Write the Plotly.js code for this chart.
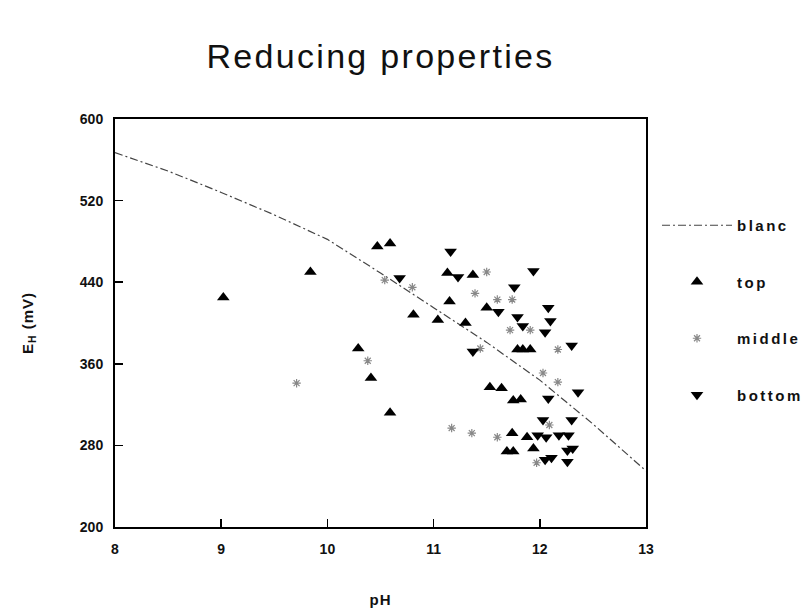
<!DOCTYPE html>
<html>
<head>
<meta charset="utf-8">
<script src="https://cdn.plot.ly/plotly-3.0.1.min.js"></script>
<style>
html, body { margin: 0; padding: 0; background: #fff; }
#chart { width: 811px; height: 614px; }
.gtitle { letter-spacing: 2.3px; }
.legendtext { letter-spacing: 2.5px; }
.xtitle, .ytitle { letter-spacing: 1px; }
</style>
</head>
<body>
<div id="chart"></div>
<script>
// blanc reference curve
const blancPH = [8, 8.5, 9, 9.5, 10, 10.5, 11, 11.5, 12, 12.5, 13];
const blancEh = [567, 549, 528, 506, 482, 449, 415, 381, 344, 301, 255];

// top
const topPH = [9.02, 9.84, 10.47, 10.59, 10.29, 10.41, 10.59, 11.13, 11.37, 11.15, 10.81, 11.04, 11.30, 11.50,
  11.79, 11.84, 11.91, 11.53, 11.64, 11.75, 11.82, 11.74, 11.88, 11.69, 11.75, 11.94];
const topEh = [425, 450, 475, 478, 375, 346, 312, 449, 447, 421, 408, 403, 400, 415,
  374, 374, 374, 337, 336, 324, 325, 292, 288, 274, 274, 277];

// middle
const midPH = [10.54, 10.80, 10.38, 9.71, 11.50, 11.39, 11.60, 11.74, 11.72, 11.91, 11.44, 12.17, 12.03, 12.17,
  11.17, 11.36, 11.60, 12.09, 11.97];
const midEh = [442, 435, 363, 341, 450, 429, 423, 423, 393, 393, 375, 374, 351, 342,
  297, 292, 288, 300, 263];

// bottom
const botPH = [11.16, 11.23, 10.68, 11.94, 11.76, 11.61, 12.08, 11.79, 11.84, 12.10, 12.05, 12.30, 11.37,
  12.08, 12.36, 12.03, 12.30, 11.98, 12.06, 12.18, 12.27, 12.26, 12.31, 12.05, 12.11, 12.26];
const botEh = [470, 445, 444, 451, 435, 411, 415, 406, 397, 402, 391, 378, 372,
  326, 332, 305, 305, 290, 288, 290, 290, 275, 277, 266, 268, 264];

const xTicks = [8, 9, 10, 11, 12, 13];
const yTicks = [200, 280, 360, 440, 520, 600];

const FONT = "'Liberation Sans', Arial, sans-serif";

const traces = [
  { x: blancPH, y: blancEh, name: 'blanc', type: 'scatter', mode: 'lines', legendgroup: 'a',
    line: { color: '#444', width: 1.2, dash: '8px,3px,2px,3px' } },
  { x: topPH, y: topEh, name: 'top', type: 'scatter', mode: 'markers', legendgroup: 'b',
    marker: { symbol: 'triangle-up', size: 11, color: '#000' } },
  { x: midPH, y: midEh, name: 'middle', type: 'scatter', mode: 'markers', legendgroup: 'c',
    marker: { symbol: 'asterisk-open', size: 7, color: '#888', line: { color: '#888', width: 1.2 } } },
  { x: botPH, y: botEh, name: 'bottom', type: 'scatter', mode: 'markers', legendgroup: 'd',
    marker: { symbol: 'triangle-down', size: 11, color: '#000' } }
];

const layout = {
  width: 811, height: 614,
  margin: { l: 115, r: 165, t: 119, b: 87 },
  paper_bgcolor: '#fff', plot_bgcolor: '#fff',
  font: { family: FONT, color: '#111' },
  title: { text: 'Reducing properties', font: { size: 34, family: FONT, color: '#111' },
    xref: 'paper', x: 0.5, xanchor: 'center', yref: 'container', y: 0.909, yanchor: 'middle' },
  xaxis: {
    range: [8, 13], tickvals: xTicks, ticktext: xTicks.map(String),
    showgrid: false, zeroline: false, showline: true, linecolor: '#000', linewidth: 2, mirror: true,
    ticks: 'inside', ticklen: 8, tickwidth: 1.5, tickcolor: '#000',
    tickfont: { size: 14, family: FONT, color: '#111', weight: 'bold' }, ticklabelstandoff: 8,
    title: { text: 'pH', font: { size: 15, family: FONT, color: '#111', weight: 'bold' }, standoff: 39 }
  },
  yaxis: {
    range: [200, 600], tickvals: yTicks, ticktext: yTicks.map(String),
    showgrid: false, zeroline: false, showline: true, linecolor: '#000', linewidth: 2, mirror: true,
    ticks: 'inside', ticklen: 8, tickwidth: 1.5, tickcolor: '#000',
    tickfont: { size: 14, family: FONT, color: '#111', weight: 'bold' }, ticklabelstandoff: 7,
    title: { text: 'E<sub>H</sub> (mV)', font: { size: 15, family: FONT, color: '#111', weight: 'bold' }, standoff: 43 }
  },
  showlegend: true,
  legend: {
    xref: 'container', yref: 'container', x: 657 / 811, y: 1 - 209 / 614, xanchor: 'left', yanchor: 'top',
    font: { size: 15, family: FONT, color: '#111', weight: 'bold' }, bgcolor: 'rgba(0,0,0,0)', borderwidth: 0,
    traceorder: 'grouped', tracegroupgap: 34, itemwidth: 70, itemsizing: 'trace'
  }
};

Plotly.newPlot('chart', traces, layout, { displayModeBar: false, staticPlot: true });
</script>
</body>
</html>
